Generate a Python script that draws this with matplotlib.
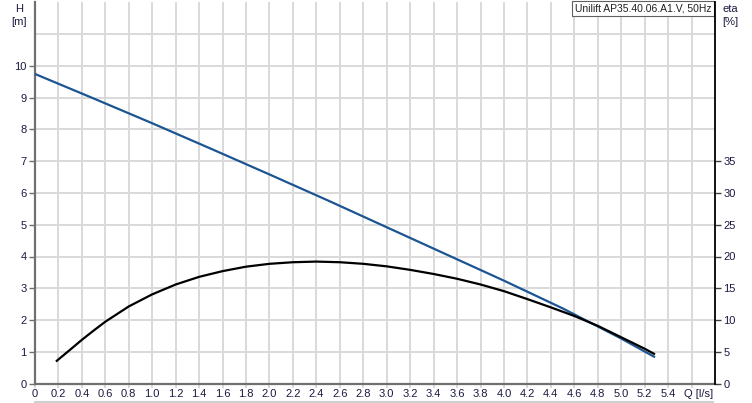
import matplotlib.pyplot as plt
from matplotlib.lines import Line2D

plt.rcParams['font.family'] = ['Liberation Sans', 'DejaVu Sans']

# head curve H [m] against flow Q [l/s]
q_head = [0.0, 0.5, 1.0, 1.5, 2.0, 2.5, 3.0, 3.5, 4.0, 4.5, 4.7, 5.0, 5.28]
head = [9.74, 8.97, 8.19, 7.39, 6.58, 5.76, 4.92, 4.08, 3.24, 2.37, 1.99, 1.42, 0.85]

# efficiency curve eta [%]
q_eta = [0.186, 0.3, 0.4, 0.5, 0.6, 0.8, 1.0, 1.2, 1.4, 1.6, 1.8, 2.0, 2.2, 2.4, 2.6, 2.8,
         3.0, 3.2, 3.4, 3.6, 3.8, 4.0, 4.2, 4.4, 4.6, 4.8, 5.0, 5.2, 5.28]
eta = [3.6, 5.35, 6.9, 8.35, 9.75, 12.15, 14.05, 15.6, 16.8, 17.7, 18.4, 18.85, 19.1, 19.2,
       19.1, 18.85, 18.45, 17.9, 17.25, 16.5, 15.6, 14.55, 13.3, 12.0, 10.65, 9.1, 7.3,
       5.5, 4.7]

x_ticks = [round(0.2 * i, 1) for i in range(29)]
x_labels = ['0' if v == 0 else f'{v:.1f}' for v in x_ticks[:-1]] + ['']
h_ticks = list(range(11))
eta_ticks = list(range(0, 40, 5))

title = 'Unilift AP35.40.06.A1.V, 50Hz'

grid_c = '#d9d9d9'
txt_c = '#1a1a40'

fig = plt.figure(figsize=(7.52, 4.03), dpi=100)
ax = fig.add_axes([35 / 752, 19.3 / 403, 680 / 752, 381.6 / 403])
ax2 = ax.twinx()

ax.set_xlim(0, 5.8)
ax.set_ylim(0, 12)
ax2.set_ylim(0, 60)

ax.set_xticks(x_ticks)
ax.set_xticklabels(x_labels)
ax.set_yticks(h_ticks)
ax2.set_yticks(eta_ticks)

for v in x_ticks[1:]:
    ax.axvline(v, color=grid_c, lw=1.4, zorder=0)
for v in range(1, 12):
    ax.axhline(v, color=grid_c, lw=1.4, zorder=0)

ax.plot(q_head, head, color='#1b5592', lw=1.6, zorder=3, solid_joinstyle='round')
ax2.plot(q_eta, eta, color='black', lw=1.6, zorder=3, solid_joinstyle='round')

for s in ['top']:
    ax.spines[s].set_visible(False)
    ax2.spines[s].set_visible(False)
ax2.spines['left'].set_visible(False)
ax2.spines['bottom'].set_visible(False)
ax.spines['right'].set_visible(False)
ax.spines['left'].set_color('#707070')
ax.spines['left'].set_linewidth(1.6)
ax.spines['bottom'].set_color('#707070')
ax.spines['bottom'].set_linewidth(1.6)
ax2.spines['right'].set_color('black')
ax2.spines['right'].set_linewidth(1.3)

ax.tick_params(axis='both', labelsize=8, colors='#707070', labelcolor=txt_c,
               length=4, width=1, pad=2)
ax.tick_params(axis='x', colors=grid_c, labelcolor=txt_c, length=3, width=1.4, pad=0.5)
ax2.tick_params(axis='y', labelsize=8, colors='#404040', labelcolor=txt_c,
                length=4, width=1, pad=2)

# unit label of the flow axis sits where the 5.6 tick label would be
ax.annotate('Q [l/s]', xy=(5.66, 0), xycoords=('data', 'axes fraction'),
            xytext=(0, -3.5), textcoords='offset points', ha='center', va='top',
            fontsize=8, color=txt_c)

fig.text(19 / 752, 1 - 4 / 403, 'H\n[m]', fontsize=8, color=txt_c, ha='center',
         va='top', linespacing=1.35)
fig.text(730 / 752, 1 - 4 / 403, 'eta\n[%]', fontsize=8, color=txt_c, ha='center',
         va='top', linespacing=1.35)

ax.text(0.995, 0.997, title, transform=ax.transAxes, ha='right', va='top',
        fontsize=7.5, color='#202020', zorder=5,
        bbox=dict(boxstyle='square,pad=0.25', fc='white', ec='#606060', lw=0.8))

# light frame line along the bottom edge
fig.add_artist(Line2D([35 / 752, 713 / 752], [1 / 403, 1 / 403], color='#cfcfcf', lw=1.5))

fig.savefig('out.png', dpi=100)
